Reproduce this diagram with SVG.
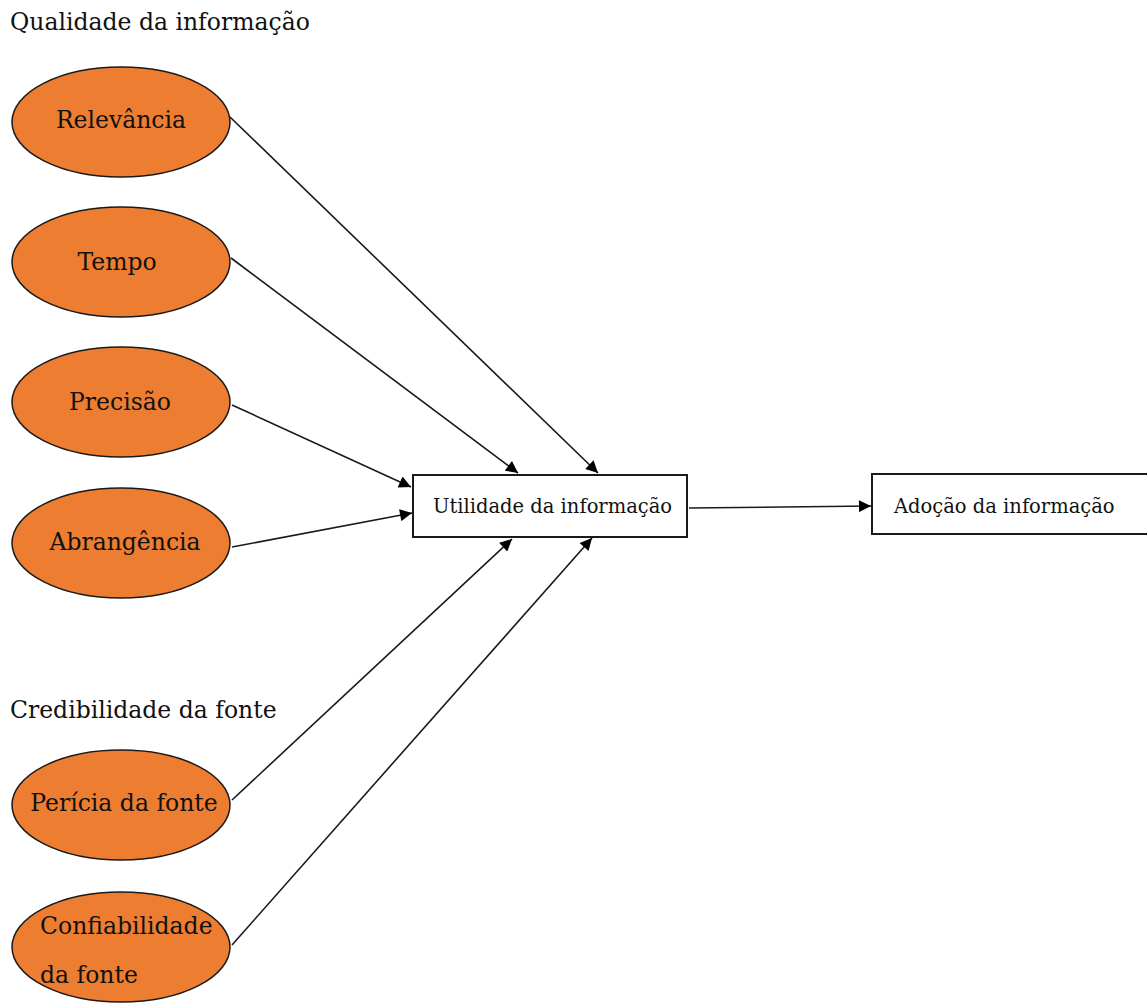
<svg xmlns="http://www.w3.org/2000/svg" width="1147" height="1007" viewBox="0 0 1147 1007">
  <style>
    .bg { fill: #ffffff; }
    .factor { fill: #ED7D31; stroke: #1a1a1a; stroke-width: 1.5; }
    .box { fill: #ffffff; stroke: #1a1a1a; stroke-width: 2; }
    .lbl { font-family: "DejaVu Serif", "Liberation Serif", serif; fill: #111111; }
    .head { font-size: 23.5px; }
    .node { font-size: 23.5px; text-anchor: middle; }
    .small { font-size: 19.5px; }
    .edge { stroke: #1a1a1a; stroke-width: 1.6; fill: none; marker-end: url(#arr); }
  </style>
  <defs>
    <marker id="arr" viewBox="0 0 10 10" refX="10" refY="5" markerWidth="13" markerHeight="12" markerUnits="userSpaceOnUse" orient="auto">
      <path d="M0,0 L10,5 L0,10 z" fill="#000"/>
    </marker>
  </defs>
  <rect class="bg" x="0" y="0" width="1147" height="1007"/>

  <text class="lbl head" x="10" y="30">Qualidade da informação</text>
  <text class="lbl head" x="10" y="718">Credibilidade da fonte</text>

  <g id="edges">
    <line class="edge" x1="230" y1="117" x2="598" y2="473"/>
    <line class="edge" x1="231" y1="258" x2="518" y2="473"/>
    <line class="edge" x1="232" y1="405" x2="411" y2="487"/>
    <line class="edge" x1="232" y1="547" x2="412" y2="513"/>
    <line class="edge" x1="232" y1="800" x2="512" y2="539"/>
    <line class="edge" x1="232" y1="945" x2="592" y2="538"/>
    <line class="edge" x1="689" y1="508" x2="871" y2="506"/>
  </g>

  <g id="relevancia">
    <ellipse class="factor" cx="121" cy="122" rx="109" ry="55"/>
    <text class="lbl node" x="121" y="128">Relevância</text>
  </g>
  <g id="tempo">
    <ellipse class="factor" cx="121" cy="262" rx="109" ry="55"/>
    <text class="lbl node" x="117" y="270">Tempo</text>
  </g>
  <g id="precisao">
    <ellipse class="factor" cx="121" cy="402" rx="109" ry="55"/>
    <text class="lbl node" x="120" y="410">Precisão</text>
  </g>
  <g id="abrangencia">
    <ellipse class="factor" cx="121" cy="543" rx="109" ry="55"/>
    <text class="lbl node" x="125" y="550">Abrangência</text>
  </g>
  <g id="pericia">
    <ellipse class="factor" cx="121" cy="805" rx="109" ry="55"/>
    <text class="lbl node" x="124" y="811">Perícia da fonte</text>
  </g>
  <g id="confiabilidade">
    <ellipse class="factor" cx="121" cy="947" rx="109" ry="55"/>
    <text class="lbl" font-size="23.5" x="40" y="934">Confiabilidade</text>
    <text class="lbl" font-size="23.5" x="40" y="983">da fonte</text>
  </g>

  <g id="utilidade">
    <rect class="box" x="413" y="475" width="274" height="62"/>
    <text class="lbl small" x="433" y="513">Utilidade da informação</text>
  </g>
  <g id="adocao">
    <rect class="box" x="872" y="474" width="280" height="60"/>
    <text class="lbl small" x="894" y="513">Adoção da informação</text>
  </g>
</svg>
